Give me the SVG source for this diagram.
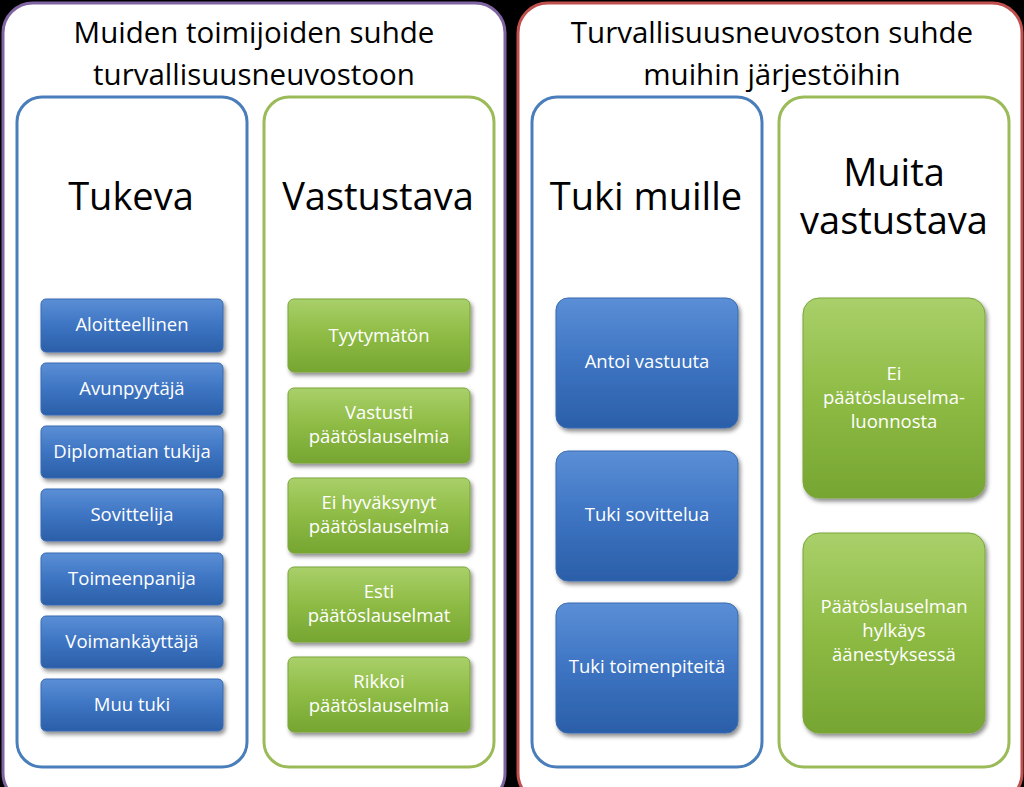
<svg xmlns="http://www.w3.org/2000/svg" width="1024" height="787" viewBox="0 0 1024 787">
<defs>
<linearGradient id="gb" x1="0" y1="0" x2="0" y2="1"><stop offset="0" stop-color="#5b8fd6"/><stop offset="0.5" stop-color="#3d74c2"/><stop offset="1" stop-color="#2b5fa8"/></linearGradient>
<linearGradient id="gg" x1="0" y1="0" x2="0" y2="1"><stop offset="0" stop-color="#a9d06a"/><stop offset="0.5" stop-color="#8ebb44"/><stop offset="1" stop-color="#76a532"/></linearGradient>
<filter id="sh" x="-10%" y="-10%" width="130%" height="130%"><feDropShadow dx="2" dy="3" stdDeviation="2" flood-opacity="0.45"/></filter>
</defs>
<style>
text{font-family:"Open Sans","Liberation Sans",sans-serif;text-anchor:middle}
.h{font-size:29.5px;fill:#000}
.t{font-size:38px;fill:#000}
.s{font-size:18.5px;fill:#fff}
.b{fill:url(#gb);stroke:#3a6bb0;stroke-width:1;filter:url(#sh)}
.g{fill:url(#gg);stroke:#7aa53a;stroke-width:1;filter:url(#sh)}
.cb{fill:#fff;stroke:#4a7ebb;stroke-width:3}
.cg{fill:#fff;stroke:#9bbb59;stroke-width:3}
</style>
<rect width="1024" height="787" fill="#000"/>
<g id="panel-left">
<rect x="3" y="3" width="502" height="800" rx="30" fill="#fff" stroke="#8064a2" stroke-width="3"/>
<text class="h" x="254" y="43">Muiden toimijoiden suhde</text>
<text class="h" x="254" y="85">turvallisuusneuvostoon</text>
</g>
<g id="panel-right">
<rect x="518" y="3" width="504" height="800" rx="30" fill="#fff" stroke="#c0504d" stroke-width="3"/>
<text class="h" x="772" y="43">Turvallisuusneuvoston suhde</text>
<text class="h" x="772" y="85">muihin järjestöihin</text>
</g>
<g id="col-tukeva"><rect class="cb" x="17" y="97" width="230" height="670" rx="25"/><text class="t" x="131" y="210">Tukeva</text></g>
<g id="col-vastustava"><rect class="cg" x="264" y="97" width="230" height="670" rx="25"/><text class="t" x="378" y="210">Vastustava</text></g>
<g id="col-tuki"><rect class="cb" x="532" y="97" width="230" height="670" rx="25"/><text class="t" x="646" y="210">Tuki muille</text></g>
<g id="col-muita"><rect class="cg" x="779" y="97" width="230" height="670" rx="25"/><text class="t" x="894" y="186">Muita</text><text class="t" x="894" y="234">vastustava</text></g>
<g id="blue-left">
<g id="n1"><rect class="b" x="41" y="299" width="182" height="53" rx="5"/><text class="s" x="132" y="331">Aloitteellinen</text></g>
<g id="n2"><rect class="b" x="41" y="363" width="182" height="52" rx="5"/><text class="s" x="132" y="395">Avunpyytäjä</text></g>
<g id="n3"><rect class="b" x="41" y="426" width="182" height="52" rx="5"/><text class="s" x="132" y="458">Diplomatian tukija</text></g>
<g id="n4"><rect class="b" x="41" y="489" width="182" height="52" rx="5"/><text class="s" x="132" y="521">Sovittelija</text></g>
<g id="n5"><rect class="b" x="41" y="553" width="182" height="52" rx="5"/><text class="s" x="132" y="585">Toimeenpanija</text></g>
<g id="n6"><rect class="b" x="41" y="616" width="182" height="52" rx="5"/><text class="s" x="132" y="648">Voimankäyttäjä</text></g>
<g id="n7"><rect class="b" x="41" y="679" width="182" height="52" rx="5"/><text class="s" x="132" y="711">Muu tuki</text></g>
</g>
<g id="green-left">
<g id="g1"><rect class="g" x="288" y="299" width="182" height="73" rx="6"/><text class="s" x="379" y="342">Tyytymätön</text></g>
<g id="g2"><rect class="g" x="288" y="388" width="182" height="75" rx="6"/><text class="s" x="379" y="419">Vastusti</text><text class="s" x="379" y="443">päätöslauselmia</text></g>
<g id="g3"><rect class="g" x="288" y="478" width="182" height="75" rx="6"/><text class="s" x="379" y="509">Ei hyväksynyt</text><text class="s" x="379" y="533">päätöslauselmia</text></g>
<g id="g4"><rect class="g" x="288" y="567" width="182" height="75" rx="6"/><text class="s" x="379" y="598">Esti</text><text class="s" x="379" y="622">päätöslauselmat</text></g>
<g id="g5"><rect class="g" x="288" y="657" width="182" height="75" rx="6"/><text class="s" x="379" y="688">Rikkoi</text><text class="s" x="379" y="712">päätöslauselmia</text></g>
</g>
<g id="blue-right">
<g id="r1"><rect class="b" x="556" y="298" width="182" height="130" rx="12"/><text class="s" x="647" y="368">Antoi vastuuta</text></g>
<g id="r2"><rect class="b" x="556" y="451" width="182" height="130" rx="12"/><text class="s" x="647" y="521">Tuki sovittelua</text></g>
<g id="r3"><rect class="b" x="556" y="603" width="182" height="130" rx="12"/><text class="s" x="647" y="673">Tuki toimenpiteitä</text></g>
</g>
<g id="green-right">
<g id="q1"><rect class="g" x="803" y="298" width="182" height="200" rx="16"/><text class="s" x="894" y="380">Ei</text><text class="s" x="894" y="404">päätöslauselma-</text><text class="s" x="894" y="428">luonnosta</text></g>
<g id="q2"><rect class="g" x="803" y="533" width="182" height="200" rx="16"/><text class="s" x="894" y="613">Päätöslauselman</text><text class="s" x="894" y="637">hylkäys</text><text class="s" x="894" y="661">äänestyksessä</text></g>
</g>
<g id="connectors"/>
</svg>
